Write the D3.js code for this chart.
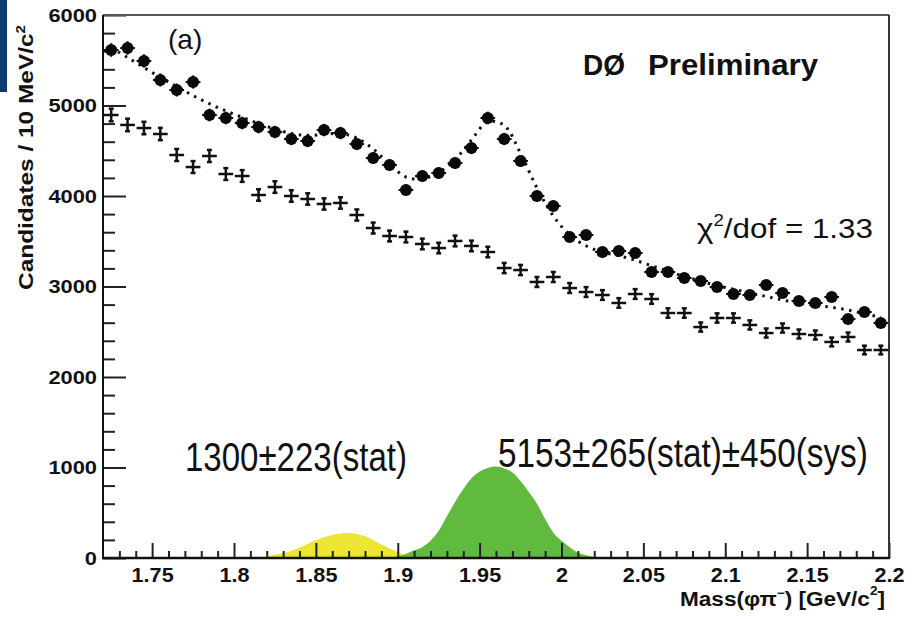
<!DOCTYPE html>
<html><head><meta charset="utf-8">
<script src="https://cdn.jsdelivr.net/npm/d3@7"></script>
<style>body{margin:0;background:#fff}svg{display:block}</style>
</head><body>
<svg id="c" width="914" height="619"></svg>
<script>
// ---- data ----
const masses = [1.725,1.735,1.745,1.755,1.765,1.775,1.785,1.795,1.805,1.815,1.825,1.835,1.845,1.855,1.865,1.875,1.885,1.895,1.905,1.915,1.925,1.935,1.945,1.955,1.965,1.975,1.985,1.995,2.005,2.015,2.025,2.035,2.045,2.055,2.065,2.075,2.085,2.095,2.105,2.115,2.125,2.135,2.145,2.155,2.165,2.175,2.185,2.195];
const signalCounts = [5613,5635,5492,5282,5171,5260,4895,4862,4807,4762,4707,4630,4608,4729,4696,4575,4420,4343,4066,4221,4254,4365,4530,4862,4630,4387,4000,3890,3547,3569,3381,3392,3370,3160,3160,3094,3061,2994,2917,2906,3017,2928,2840,2818,2884,2641,2718,2597];
const otherCounts = [4895,4785,4751,4685,4453,4320,4442,4243,4221,4011,4099,4000,3967,3912,3923,3790,3646,3558,3547,3470,3425,3503,3448,3381,3204,3182,3050,3105,2983,2939,2906,2818,2917,2862,2707,2707,2552,2652,2652,2575,2486,2541,2475,2464,2387,2442,2298,2298];
const fitCounts = [5640,5530,5420,5310,5210,5110,5020,4940,4870,4800,4740,4690,4670,4680,4690,4640,4520,4350,4210,4190,4260,4400,4620,4820,4780,4470,4090,3780,3570,3450,3380,3340,3290,3230,3170,3110,3060,3010,2970,2930,2890,2850,2820,2790,2770,2740,2700,2660];
const dplusMass = [1.81,1.815,1.82,1.825,1.83,1.835,1.84,1.845,1.85,1.855,1.86,1.865,1.87,1.875,1.88,1.885,1.89,1.895,1.9,1.905,1.91];
const dplusHeight = [0,10,20,35,55,80,115,155,195,230,255,270,275,265,240,200,150,105,65,30,0];
const dsMass = [1.895,1.9,1.905,1.91,1.915,1.92,1.925,1.93,1.935,1.94,1.945,1.95,1.955,1.96,1.965,1.97,1.975,1.98,1.985,1.99,1.995,2.0,2.005,2.01,2.015,2.02,2.025];
const dsHeight = [0,20,45,85,120,190,300,460,620,760,880,955,995,1010,990,945,850,730,600,430,280,190,120,60,30,12,0];
const xTicks = [1.75,1.8,1.85,1.9,1.95,2.0,2.05,2.1,2.15,2.2];
const xTickLabels = ["1.75","1.8","1.85","1.9","1.95","2","2.05","2.1","2.15","2.2"];
const yTicks = [0,1000,2000,3000,4000,5000,6000];
const yTickLabels = ["0","1000","2000","3000","4000","5000","6000"];

// ---- drawing ----
const svg = d3.select("#c");
svg.append("rect").attr("width",914).attr("height",619).attr("fill","#fff");
svg.append("rect").attr("x",0).attr("y",0).attr("width",7).attr("height",92).attr("fill","#0e3a6c");

const x = d3.scaleLinear().domain([1.72,2.2]).range([103,889]);
const y = d3.scaleLinear().domain([0,6000]).range([558,15]);

const area = d3.area().x(d=>x(d[0])).y0(y(0)).y1(d=>y(d[1])).curve(d3.curveMonotoneX);
svg.append("path").datum(d3.zip(dplusMass,dplusHeight)).attr("d",area).attr("fill","#ece532");
svg.append("path").datum(d3.zip(dsMass,dsHeight)).attr("d",area).attr("fill","#5fba3e");

const font = "'Liberation Sans', Arial, Helvetica, sans-serif";
function styleAxis(g, stretch){
  g.select(".domain").remove();
  g.selectAll("line").attr("stroke","#222").attr("stroke-width",2);
  g.selectAll("text").attr("font-family",font).attr("font-weight","bold").attr("fill","#111")
    .each(function(){ const w=this.getComputedTextLength(); d3.select(this).attr("textLength",w*stretch).attr("lengthAdjust","spacingAndGlyphs");});
}
const yMinor = d3.range(200,6000,200).filter(v=>v%1000!==0);
const xMinor = d3.range(173,220,1).filter(v=>v%5!==0).map(v=>v/100);

const gyMin = svg.append("g").attr("transform","translate(103,0)")
  .call(d3.axisLeft(y).tickValues(yMinor).tickSize(-12).tickFormat(""));
styleAxis(gyMin,1);
const gy = svg.append("g").attr("transform","translate(103,0)")
  .call(d3.axisLeft(y).tickValues(yTicks).tickSize(-23).tickPadding(6).tickFormat((d,i)=>yTickLabels[i]))
  .attr("font-size",19);
styleAxis(gy,1.15);

const gxMin = svg.append("g").attr("transform","translate(0,558)")
  .call(d3.axisBottom(x).tickValues(xMinor).tickSize(-7).tickFormat(""));
styleAxis(gxMin,1);
const gx = svg.append("g").attr("transform","translate(0,558)")
  .call(d3.axisBottom(x).tickValues(xTicks).tickSize(-15).tickPadding(10).tickFormat((d,i)=>xTickLabels[i]))
  .attr("font-size",20);
styleAxis(gx,1.08);

// frame
svg.append("line").attr("x1",103).attr("x2",889).attr("y1",15).attr("y2",15).attr("stroke","#555").attr("stroke-width",2);
svg.append("line").attr("x1",889).attr("x2",889).attr("y1",15).attr("y2",558).attr("stroke","#333").attr("stroke-width",2);
svg.append("line").attr("x1",103).attr("x2",103).attr("y1",15).attr("y2",559).attr("stroke","#111").attr("stroke-width",2);
svg.append("line").attr("x1",102).attr("x2",890).attr("y1",558).attr("y2",558).attr("stroke","#111").attr("stroke-width",2.5);

// fit curve
const fitLine = d3.line().x((d,i)=>x(masses[i])).y(d=>y(d)).curve(d3.curveCatmullRom);
svg.append("path").datum(fitCounts).attr("d",fitLine).attr("fill","none")
  .attr("stroke","#111").attr("stroke-width",3).attr("stroke-dasharray","2.5 5.5");

// crosses (other sample)
const gc = svg.append("g").attr("stroke","#111").attr("stroke-width",2.5);
otherCounts.forEach((v,i)=>{
  const m = masses[i], e = Math.sqrt(v);
  gc.append("line").attr("x1",x(m-0.0045)).attr("x2",x(m+0.0045)).attr("y1",y(v)).attr("y2",y(v));
  gc.append("line").attr("x1",x(m)).attr("x2",x(m)).attr("y1",y(v+e)).attr("y2",y(v-e));
  [v+e,v-e].forEach(t=>gc.append("line").attr("x1",x(m)-2.5).attr("x2",x(m)+2.5).attr("y1",y(t)).attr("y2",y(t)));
});

// filled circles (data)
const gd = svg.append("g");
signalCounts.forEach((v,i)=>{
  const m = masses[i], e = Math.sqrt(v);
  gd.append("line").attr("x1",x(m-0.0045)).attr("x2",x(m+0.0045)).attr("y1",y(v)).attr("y2",y(v)).attr("stroke","#111").attr("stroke-width",2);
  gd.append("line").attr("x1",x(m)).attr("x2",x(m)).attr("y1",y(v+e)).attr("y2",y(v-e)).attr("stroke","#111").attr("stroke-width",2);
  gd.append("circle").attr("cx",x(m)).attr("cy",y(v)).attr("r",6).attr("fill","#0a0a0a");
});

// texts
svg.append("text").attr("x",168).attr("y",49).attr("font-family",font).attr("font-size",28).attr("fill","#111").text("(a)");
svg.append("text").attr("x",583).attr("y",75).attr("font-family",font).attr("font-weight","bold").attr("font-size",30).attr("fill","#111")
  .attr("textLength",42).attr("lengthAdjust","spacingAndGlyphs").text("DØ");
svg.append("text").attr("x",648).attr("y",75).attr("font-family",font).attr("font-weight","bold").attr("font-size",30).attr("fill","#111")
  .attr("textLength",170).attr("lengthAdjust","spacingAndGlyphs").text("Preliminary");

const chi = svg.append("text").attr("x",697).attr("y",238).attr("font-family",font).attr("font-size",27).attr("fill","#111")
  .attr("textLength",176).attr("lengthAdjust","spacingAndGlyphs");
chi.append("tspan").text("χ");
chi.append("tspan").attr("dy",-12).attr("font-size",16).text("2");
chi.append("tspan").attr("dy",12).text("/dof = 1.33");

// large yield labels: squeezed horizontally with a transform so the real box fits
const narrow = "'Liberation Sans Narrow', 'Arial Narrow', 'Liberation Sans', Arial, sans-serif";
function squeezed(x0, y0, width, str){
  const t = svg.append("text").attr("font-family",narrow).attr("font-size",40).attr("fill","#111").text(str);
  const w = t.node().getComputedTextLength();
  t.attr("transform",`translate(${x0},${y0}) scale(${width/w},1)`);
}
squeezed(185, 471, 222, "1300±223(stat)");
squeezed(498, 467, 370, "5153±265(stat)±450(sys)");

// axis titles
const yt = svg.append("text").attr("transform","translate(33,290) rotate(-90)").attr("font-family",font)
  .attr("font-weight","bold").attr("font-size",21).attr("fill","#111")
  .attr("textLength",265).attr("lengthAdjust","spacingAndGlyphs");
yt.append("tspan").text("Candidates / 10 MeV/c");
yt.append("tspan").attr("dy",-8).attr("font-size",13).text("2");

const xt = svg.append("text").attr("x",680).attr("y",606).attr("font-family",font)
  .attr("font-weight","bold").attr("font-size",20).attr("fill","#111")
  .attr("textLength",205).attr("lengthAdjust","spacingAndGlyphs");
xt.append("tspan").text("Mass(φπ");
xt.append("tspan").attr("dy",-9).attr("font-size",12).text("−");
xt.append("tspan").attr("dy",9).text(")  [GeV/c");
xt.append("tspan").attr("dy",-11).attr("font-size",12).text("2");
xt.append("tspan").attr("dy",11).text("]");
</script></body></html>
